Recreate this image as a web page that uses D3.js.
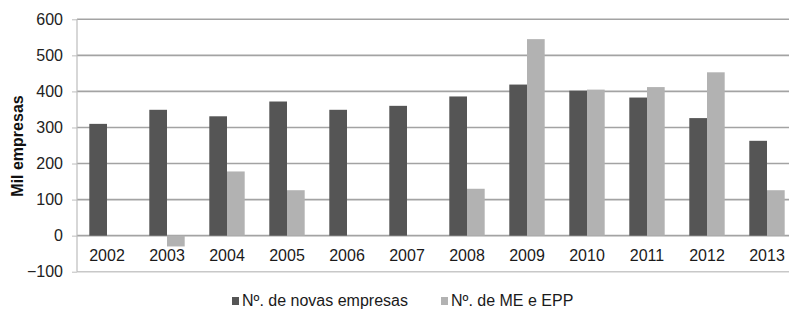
<!DOCTYPE html>
<html>
<head>
<meta charset="utf-8">
<script src="https://cdn.jsdelivr.net/npm/d3@7"></script>
<style>
  body { margin: 0; background: #fff; }
  text { font-family: "Liberation Sans", Arial, sans-serif; }
</style>
</head>
<body>
<svg id="chart" width="789" height="313"></svg>
<script>
/*************************** Data ***************************/
var years = ["2002","2003","2004","2005","2006","2007","2008","2009","2010","2011","2012","2013"];
var novasEmpresas = [310, 349, 331, 372, 349, 360, 386, 419, 402, 383, 326, 263];
var meEpp = [null, -30, 178, 126, null, null, 130, 545, 405, 412, 453, 126];
var yTicks = [-100, 0, 100, 200, 300, 400, 500, 600];
var seriesNames = ["N\u00ba. de novas empresas", "N\u00ba. de ME e EPP"];

/*************************** Chart ***************************/
var svg = d3.select("#chart");
var colors = ["#555555", "#b2b2b2"];

var x = d3.scaleBand().domain(years).range([77, 797]);
var y = d3.scaleLinear().domain([-100, 600]).range([271.7, 19.3]);
var barW = 17.7;

// grid lines
svg.append("g").selectAll("line")
    .data(yTicks)
    .enter()
    .append("line")
    .attr("x1", 77).attr("x2", 789)
    .attr("y1", function(d){ return y(d); })
    .attr("y2", function(d){ return y(d); })
    .attr("stroke", function(d){ return d == -100 ? "#c8c8c8" : "#a3a3a3"; })
    .attr("stroke-width", 1.6);

// y axis line
svg.append("line")
    .attr("x1", 77).attr("x2", 77)
    .attr("y1", y(600)).attr("y2", y(-100))
    .attr("stroke", "#bdbdbd").attr("stroke-width", 1.2);

var yAxis = d3.axisLeft(y).tickValues(yTicks).tickSize(5).tickPadding(9);
var gy = svg.append("g").attr("transform", "translate(77,0)").call(yAxis);
gy.select(".domain").remove();
gy.selectAll(".tick line").attr("stroke", "#bdbdbd");
gy.selectAll(".tick text")
    .attr("font-size", "16px")
    .attr("fill", "#222")
    .attr("font-family", "Liberation Sans, Arial, sans-serif");

// bars
var series = [novasEmpresas, meEpp];
series.forEach(function(vals, s){
    svg.append("g").selectAll("rect")
        .data(years.map(function(yr, i){ return {year: yr, v: vals[i]}; }).filter(function(d){ return d.v != null; }))
        .enter()
        .append("rect")
        .attr("x", function(d){ return x(d.year) + x.bandwidth()/2 - barW + s*barW; })
        .attr("y", function(d){ return y(Math.max(0, d.v)); })
        .attr("width", barW)
        .attr("height", function(d){ return Math.abs(y(d.v) - y(0)); })
        .attr("fill", colors[s]);
});

// category labels
svg.append("g").selectAll("text")
    .data(years)
    .enter()
    .append("text")
    .attr("x", function(d){ return x(d) + x.bandwidth()/2; })
    .attr("y", 261)
    .attr("text-anchor", "middle")
    .attr("font-size", "16px")
    .attr("fill", "#1a1a1a")
    .text(function(d){ return d; });

// y title
svg.append("text")
    .attr("transform", "translate(23,146) rotate(-90)")
    .attr("text-anchor", "middle")
    .attr("font-size", "16px")
    .attr("font-weight", "bold")
    .attr("fill", "#111")
    .text("Mil empresas");

// legend
var legendX = [232, 441];
seriesNames.forEach(function(name, i){
    var g = svg.append("g").attr("transform", "translate(" + legendX[i] + ",306)");
    g.append("rect").attr("x", 0).attr("y", -9).attr("width", 7).attr("height", 8).attr("fill", colors[i]);
    g.append("text").attr("x", 10).attr("y", 0)
        .attr("font-size", "16px").attr("fill", "#1a1a1a").text(name);
});
</script>
</body>
</html>
